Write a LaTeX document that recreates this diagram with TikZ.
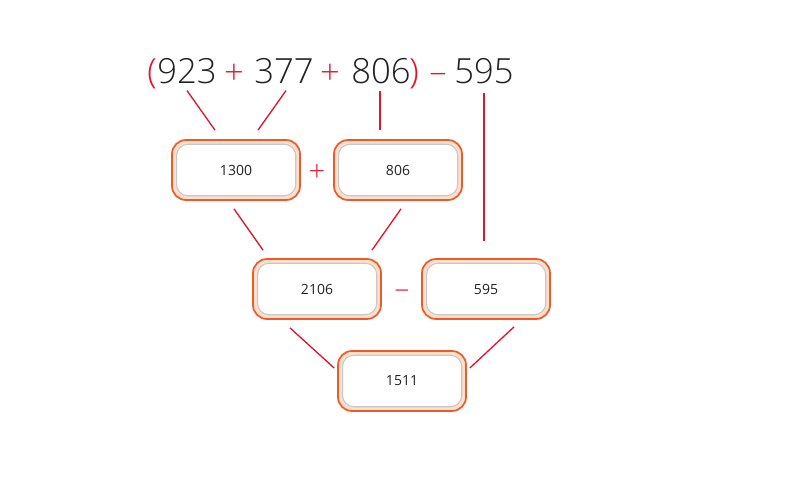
\documentclass[tikz,border=0pt]{standalone}
\usepackage{fontspec}
\setmainfont{Open Sans}
\newfontfamily\lightface{Open Sans Light}
\usetikzlibrary{calc}
\definecolor{opred}{HTML}{E8132B}
\definecolor{boxedge}{HTML}{F05A28}
\definecolor{boxband}{HTML}{FDE0CC}
\definecolor{innerline}{HTML}{C8C8C8}
\definecolor{numtext}{HTML}{222222}
\tikzset{
  term/.style={inner sep=0pt, anchor=base, text=numtext, font=\lightface\fontsize{26}{30}\selectfont},
  oper/.style={term, text=opred},
  numbox/.style={rectangle, rounded corners=10.5pt, draw=boxedge, line width=1.3pt,
    fill=boxband, minimum width=96pt, minimum height=45pt, text=numtext,
    font=\fontsize{10.5}{12}\selectfont,
    path picture={\draw[innerline, fill=white, line width=0.8pt, rounded corners=8.5pt]
      ([shift={(3.4pt,3.2pt)}]path picture bounding box.south west) rectangle
      ([shift={(-3.2pt,-3.2pt)}]path picture bounding box.north east);}},
  midop/.style={text=opred, inner sep=0pt, font=\lightface\fontsize{22}{24}\selectfont},
  link/.style={draw=opred, line width=1pt}
}
\begin{document}
\begin{tikzpicture}[x=0.75pt,y=-0.75pt]
\useasboundingbox (0,0) rectangle (792,491);

% the expression
\node[oper] (lp)   at (152,84) {(};
\node[term] (n923) at (187,84) {923};
\node[oper] (p1)   at (234,85) {+};
\node[term] (n377) at (284,84) {377};
\node[oper] (p2)   at (330,85) {+};
\node[term] (n806) at (381,84) {806};
\node[oper] (rp)   at (414,84) {)};
\node[oper] (mn)   at (438,84) {\char"2013};
\node[term] (n595) at (484,84) {595};

% result boxes
\node[numbox] (b1300) at (236,170) {\raisebox{-1.5pt}{1300}};
\node[numbox] (b806)  at (398,170) {\raisebox{-1.5pt}{806}};
\node[numbox] (b2106) at (317,289) {\raisebox{-2pt}{2106}};
\node[numbox] (b595)  at (486,289) {\raisebox{-2pt}{595}};
\node[numbox] (b1511) at (402,381) {\raisebox{-1.5pt}{1511}};

% operators between boxes
\node[midop] (op1) at (317,173) {+};
\node[midop] (op2) at (402,294) {\char"2013};

% connectors
\draw[link] ($(n923.south)+(0,6)$) -- ($(b1300.north)+(-21,-9)$);
\draw[link] ($(n377.south)+(2,6)$) -- ($(b1300.north)+(22,-9)$);
\draw[link] ($(n806.south)+(-1,6)$) -- ($(b806.north)+(-18,-9)$);
\coordinate (k595) at ($(b595.north)+(-2,-17)$);
\draw[link] ($(n595.south)+(0,8)$) -- (k595);
\draw[link] ($(b1300.south)+(-2,8)$) -- ($(b2106.north)+(-54,-8)$);
\draw[link] ($(b806.south)+(3,8)$) -- ($(b2106.north)+(55,-8)$);
\draw[link] ($(b2106.south)+(-27,8)$) -- ($(b1511.west)+(-3,-13)$);
\draw[link] ($(b595.south)+(28,7)$) -- ($(b1511.east)+(3,-13)$);
\end{tikzpicture}
\end{document}
